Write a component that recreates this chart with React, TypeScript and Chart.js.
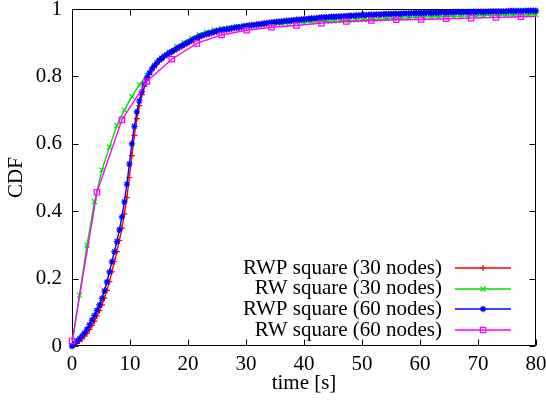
import React, { useEffect, useRef } from 'react';
import { Chart, registerables } from 'chart.js';
import { drawPoint } from 'chart.js/helpers';

Chart.register(...registerables);

// ---- data ----
const timeFine = [
  0, 0.43, 0.86, 1.29, 1.72, 2.15, 2.58, 3.01, 3.44, 3.87,
  4.3, 4.73, 5.16, 5.59, 6.02, 6.45, 6.88, 7.31, 7.74, 8.17,
  8.6, 9.03, 9.46, 9.89, 10.32, 10.75, 11.18, 11.61, 12.04, 12.47,
  12.9, 13.33, 13.76, 14.19, 14.62, 15.05, 15.48, 15.91, 16.34, 16.77,
  17.2, 17.63, 18.06, 18.49, 18.92, 19.35, 19.78, 20.21, 20.64, 21.07,
  21.5, 21.93, 22.36, 22.79, 23.22, 23.65, 24.08, 24.51, 24.94, 25.37,
  25.8, 26.23, 26.66, 27.09, 27.52, 27.95, 28.38, 28.81, 29.24, 29.67,
  30.1, 30.53, 30.96, 31.39, 31.82, 32.25, 32.68, 33.11, 33.54, 33.97,
  34.4, 34.83, 35.26, 35.69, 36.12, 36.55, 36.98, 37.41, 37.84, 38.27,
  38.7, 39.13, 39.56, 39.99, 40.42, 40.85, 41.28, 41.71, 42.14, 42.57,
  43, 43.43, 43.86, 44.29, 44.72, 45.15, 45.58, 46.01, 46.44, 46.87,
  47.3, 47.73, 48.16, 48.59, 49.02, 49.45, 49.88, 50.31, 50.74, 51.17,
  51.6, 52.03, 52.46, 52.89, 53.32, 53.75, 54.18, 54.61, 55.04, 55.47,
  55.9, 56.33, 56.76, 57.19, 57.62, 58.05, 58.48, 58.91, 59.34, 59.77,
  60.2, 60.63, 61.06, 61.49, 61.92, 62.35, 62.78, 63.21, 63.64, 64.07,
  64.5, 64.93, 65.36, 65.79, 66.22, 66.65, 67.08, 67.51, 67.94, 68.37,
  68.8, 69.23, 69.66, 70.09, 70.52, 70.95, 71.38, 71.81, 72.24, 72.67,
  73.1, 73.53, 73.96, 74.39, 74.82, 75.25, 75.68, 76.11, 76.54, 76.97,
  77.4, 77.83, 78.26, 78.69, 79.12, 79.55, 79.98,
];

const rwpSquare30 = [
  0, 0.003, 0.008, 0.014, 0.021, 0.029, 0.038, 0.049, 0.061, 0.074,
  0.089, 0.105, 0.122, 0.142, 0.165, 0.191, 0.22, 0.25, 0.28, 0.313,
  0.35, 0.392, 0.44, 0.5, 0.565, 0.625, 0.675, 0.713, 0.745, 0.77,
  0.79, 0.806, 0.819, 0.829, 0.838, 0.845, 0.852, 0.858, 0.863, 0.867,
  0.872, 0.876, 0.881, 0.885, 0.889, 0.893, 0.897, 0.901, 0.905, 0.909,
  0.913, 0.916, 0.919, 0.922, 0.924, 0.926, 0.928, 0.93, 0.932, 0.934,
  0.935, 0.937, 0.938, 0.939, 0.941, 0.942, 0.943, 0.944, 0.945, 0.947,
  0.948, 0.949, 0.95, 0.951, 0.952, 0.953, 0.954, 0.955, 0.956, 0.957,
  0.958, 0.959, 0.96, 0.961, 0.962, 0.963, 0.963, 0.964, 0.965, 0.966,
  0.966, 0.967, 0.968, 0.968, 0.969, 0.97, 0.97, 0.971, 0.972, 0.972,
  0.973, 0.974, 0.974, 0.975, 0.975, 0.976, 0.976, 0.977, 0.977, 0.978,
  0.978, 0.978, 0.979, 0.979, 0.98, 0.98, 0.98, 0.981, 0.981, 0.981,
  0.982, 0.982, 0.982, 0.983, 0.983, 0.983, 0.984, 0.984, 0.984, 0.984,
  0.985, 0.985, 0.985, 0.985, 0.986, 0.986, 0.986, 0.986, 0.987, 0.987,
  0.987, 0.987, 0.987, 0.988, 0.988, 0.988, 0.988, 0.988, 0.989, 0.989,
  0.989, 0.989, 0.989, 0.989, 0.99, 0.99, 0.99, 0.99, 0.99, 0.99,
  0.99, 0.991, 0.991, 0.991, 0.991, 0.991, 0.991, 0.991, 0.992, 0.992,
  0.992, 0.992, 0.992, 0.992, 0.992, 0.993, 0.993, 0.993, 0.993, 0.993,
  0.993, 0.993, 0.994, 0.994, 0.994, 0.994, 0.994,
];

const rwpSquare60 = [
  0, 0.008, 0.015, 0.022, 0.03, 0.039, 0.05, 0.063, 0.077, 0.091,
  0.106, 0.122, 0.141, 0.164, 0.19, 0.22, 0.25, 0.28, 0.31, 0.345,
  0.383, 0.428, 0.48, 0.54, 0.6, 0.652, 0.695, 0.727, 0.755, 0.777,
  0.796, 0.81, 0.822, 0.832, 0.841, 0.848, 0.854, 0.86, 0.865, 0.869,
  0.874, 0.878, 0.883, 0.887, 0.891, 0.895, 0.899, 0.903, 0.907, 0.911,
  0.915, 0.918, 0.921, 0.924, 0.926, 0.928, 0.93, 0.932, 0.934, 0.936,
  0.937, 0.939, 0.94, 0.941, 0.943, 0.944, 0.945, 0.946, 0.947, 0.949,
  0.95, 0.951, 0.952, 0.953, 0.954, 0.955, 0.956, 0.957, 0.958, 0.959,
  0.96, 0.961, 0.962, 0.962, 0.963, 0.964, 0.965, 0.965, 0.966, 0.967,
  0.968, 0.968, 0.969, 0.97, 0.97, 0.971, 0.972, 0.972, 0.973, 0.974,
  0.975, 0.975, 0.976, 0.976, 0.977, 0.977, 0.977, 0.978, 0.978, 0.979,
  0.979, 0.98, 0.98, 0.98, 0.981, 0.981, 0.982, 0.982, 0.982, 0.983,
  0.983, 0.983, 0.984, 0.984, 0.984, 0.985, 0.985, 0.985, 0.985, 0.986,
  0.986, 0.986, 0.986, 0.987, 0.987, 0.987, 0.987, 0.988, 0.988, 0.988,
  0.988, 0.988, 0.989, 0.989, 0.989, 0.989, 0.989, 0.99, 0.99, 0.99,
  0.99, 0.99, 0.99, 0.991, 0.991, 0.991, 0.991, 0.991, 0.991, 0.991,
  0.991, 0.992, 0.992, 0.992, 0.992, 0.992, 0.992, 0.992, 0.993, 0.993,
  0.993, 0.993, 0.993, 0.993, 0.993, 0.994, 0.994, 0.994, 0.994, 0.994,
  0.994, 0.994, 0.995, 0.995, 0.995, 0.995, 0.995,
];

const timeRw30 = [
  0, 1.29, 2.58, 3.87, 5.16, 6.45, 7.74, 9.03, 10.32, 11.61,
  12.9, 14.19, 15.48, 16.77, 18.06, 19.35, 20.64, 21.93, 23.22, 24.51,
  25.8, 27.09, 28.38, 29.67, 30.96, 32.25, 33.54, 34.83, 36.12, 37.41,
  38.7, 39.99, 41.28, 42.57, 43.86, 45.15, 46.44, 47.73, 49.02, 50.31,
  51.6, 52.89, 54.18, 55.47, 56.76, 58.05, 59.34, 60.63, 61.92, 63.21,
  64.5, 65.79, 67.08, 68.37, 69.66, 70.95, 72.24, 73.53, 74.82, 76.11,
  77.4, 78.69, 79.98,
];

const rwSquare30 = [
  0, 0.151, 0.299, 0.428, 0.522, 0.59, 0.654, 0.7, 0.74, 0.775,
  0.803, 0.83, 0.854, 0.873, 0.889, 0.901, 0.913, 0.924, 0.932, 0.938,
  0.942, 0.945, 0.948, 0.95, 0.952, 0.953, 0.955, 0.956, 0.957, 0.958,
  0.959, 0.96, 0.961, 0.962, 0.963, 0.964, 0.965, 0.966, 0.967, 0.968,
  0.969, 0.97, 0.971, 0.972, 0.973, 0.974, 0.975, 0.976, 0.977, 0.977,
  0.978, 0.978, 0.979, 0.979, 0.98, 0.98, 0.981, 0.981, 0.982, 0.982,
  0.982, 0.983, 0.983,
];

const timeRw60 = [
  0, 4.3, 8.6, 12.9, 17.2, 21.5, 25.8, 30.1, 34.4, 38.7,
  43, 47.3, 51.6, 55.9, 60.2, 64.5, 68.8, 73.1, 77.4, 80,
];

const rwSquare60 = [
  0.015, 0.456, 0.671, 0.785, 0.851, 0.898, 0.923, 0.937, 0.946, 0.951,
  0.958, 0.963, 0.966, 0.968, 0.969, 0.971, 0.973, 0.975, 0.977, 0.978,
];

const seriesLabels = [
  'RWP square (30 nodes)',
  'RW square (30 nodes)',
  'RWP square (60 nodes)',
  'RW square (60 nodes)',
];

const xTickValues = [0, 10, 20, 30, 40, 50, 60, 70, 80];
const yTickValues = [0, 0.2, 0.4, 0.6, 0.8, 1];
const yTickLabels = ['0', '0.2', '0.4', '0.6', '0.8', '1'];
const xTitle = 'time [s]';
const yTitle = 'CDF';

// ---- styles ----
const FONT = '"Liberation Serif", "Times New Roman", "DejaVu Serif", serif';
const FONT_SIZE = 21;
const COLORS = ['#ff0000', '#00e000', '#0000ff', '#ff00ff'];
const STYLES = ['cross', 'crossRot', 'star', 'rect'];
const RADII = [3, 3.5, 3.2, 3.8];
const LINE_W = 1.4;

const framePlugin = {
  id: 'gnuplotFrame',
  beforeDatasetsDraw(chart: any) {
    const { ctx, chartArea } = chart;
    const { left, right, top, bottom } = chartArea;
    const xs = chart.scales.x;
    const ys = chart.scales.y;
    const L = Math.round(left) + 0.5;
    const R = Math.round(right) - 0.5;
    const T = Math.round(top) + 0.5;
    const B = Math.round(bottom) - 0.5;
    const tick = 6;
    ctx.save();
    ctx.strokeStyle = '#000';
    ctx.lineWidth = 1;
    ctx.beginPath();
    ctx.rect(L, T, R - L, B - T);
    xTickValues.forEach((v) => {
      const px = Math.round(xs.getPixelForValue(v)) + 0.5;
      ctx.moveTo(px, B);
      ctx.lineTo(px, B - tick);
      ctx.moveTo(px, T);
      ctx.lineTo(px, T + tick);
    });
    yTickValues.forEach((v) => {
      const py = Math.round(ys.getPixelForValue(v)) + 0.5;
      ctx.moveTo(L, py);
      ctx.lineTo(L + tick, py);
      ctx.moveTo(R, py);
      ctx.lineTo(R - tick, py);
    });
    ctx.stroke();
    ctx.restore();
  },
};

const legendPlugin = {
  id: 'gnuplotLegend',
  afterDatasetsDraw(chart: any) {
    const { ctx, chartArea } = chart;
    const textRight = chartArea.right - 94;
    const lineStart = chartArea.right - 81;
    const lineEnd = chartArea.right - 25;
    const rowGap = 20.6;
    const lastY = chartArea.bottom - 16;
    ctx.save();
    ctx.font = `${FONT_SIZE}px ${FONT}`;
    ctx.textAlign = 'right';
    ctx.textBaseline = 'middle';
    seriesLabels.forEach((label, i) => {
      const y = lastY - (seriesLabels.length - 1 - i) * rowGap;
      ctx.fillStyle = '#000';
      ctx.fillText(label, textRight, y);
      const ly = Math.round(y);
      ctx.strokeStyle = COLORS[i];
      ctx.lineWidth = LINE_W;
      ctx.beginPath();
      ctx.moveTo(lineStart, ly);
      ctx.lineTo(lineEnd, ly);
      ctx.stroke();
      ctx.fillStyle = 'rgba(0,0,0,0)';
      ctx.lineWidth = 1.2;
      drawPoint(
        ctx,
        { pointStyle: STYLES[i], rotation: 0, radius: RADII[i], borderWidth: 1.2 } as any,
        (lineStart + lineEnd) / 2,
        ly,
      );
    });
    ctx.restore();
  },
};

export default function App() {
  const canvasRef = useRef<HTMLCanvasElement | null>(null);

  useEffect(() => {
    if (!canvasRef.current) return;
    Chart.defaults.font.family = FONT;
    Chart.defaults.font.size = FONT_SIZE;
    Chart.defaults.color = '#000';

    const mk = (xs: number[], ys: number[]) => xs.map((x, i) => ({ x, y: ys[i] }));
    const seriesData = [
      mk(timeFine, rwpSquare30),
      mk(timeRw30, rwSquare30),
      mk(timeFine, rwpSquare60),
      mk(timeRw60, rwSquare60),
    ];
    const orders = [4, 3, 2, 1];

    const datasets = seriesData.map((data, i) => ({
      label: seriesLabels[i],
      data,
      borderColor: COLORS[i],
      backgroundColor: 'rgba(0,0,0,0)',
      borderWidth: LINE_W,
      pointStyle: STYLES[i],
      pointRadius:
        i === 3 ? data.map((_, j) => (j === data.length - 1 ? 0 : RADII[i])) : RADII[i],
      pointBorderColor: COLORS[i],
      pointBackgroundColor: 'rgba(0,0,0,0)',
      pointBorderWidth: 1.2,
      tension: 0,
      fill: false,
      clip: false as any,
      order: orders[i],
    }));

    const chart = new Chart(canvasRef.current, {
      type: 'line',
      data: { datasets: datasets as any },
      options: {
        animation: false,
        responsive: false,
        devicePixelRatio: 1,
        events: [],
        layout: { padding: { top: 9, right: 10, left: 0, bottom: 0 } },
        plugins: {
          legend: { display: false },
          tooltip: { enabled: false },
        },
        scales: {
          x: {
            type: 'linear',
            min: 0,
            max: 80,
            grid: { display: false, drawTicks: false },
            border: { display: false },
            ticks: {
              stepSize: 10,
              padding: 6,
              color: '#000',
              font: { family: FONT, size: FONT_SIZE },
              maxRotation: 0,
              autoSkip: false,
            },
            title: {
              display: true,
              text: xTitle,
              color: '#000',
              font: { family: FONT, size: FONT_SIZE },
              padding: { top: 0, bottom: 4 },
            },
            afterFit: (scale: any) => {
              scale.height = 54;
              scale.paddingLeft = 0;
              scale.paddingRight = 0;
            },
          },
          y: {
            type: 'linear',
            min: 0,
            max: 1,
            grid: { display: false, drawTicks: false },
            border: { display: false },
            ticks: {
              stepSize: 0.2,
              padding: 10,
              color: '#000',
              font: { family: FONT, size: FONT_SIZE },
              autoSkip: false,
              callback: (_v: any, idx: number) => yTickLabels[idx],
            },
            title: {
              display: true,
              text: yTitle,
              color: '#000',
              font: { family: FONT, size: FONT_SIZE },
              padding: { top: 4, bottom: 0 },
            },
            afterFit: (scale: any) => {
              scale.width = 72;
              scale.paddingTop = 0;
              scale.paddingBottom = 0;
            },
          },
        },
      },
      plugins: [framePlugin, legendPlugin],
    });

    return () => chart.destroy();
  }, []);

  return (
    <div style={{ position: 'absolute', left: 0, top: 0, width: 546, height: 400, background: '#fff' }}>
      <canvas ref={canvasRef} width={546} height={400} style={{ display: 'block', width: 546, height: 400 }} />
    </div>
  );
}
